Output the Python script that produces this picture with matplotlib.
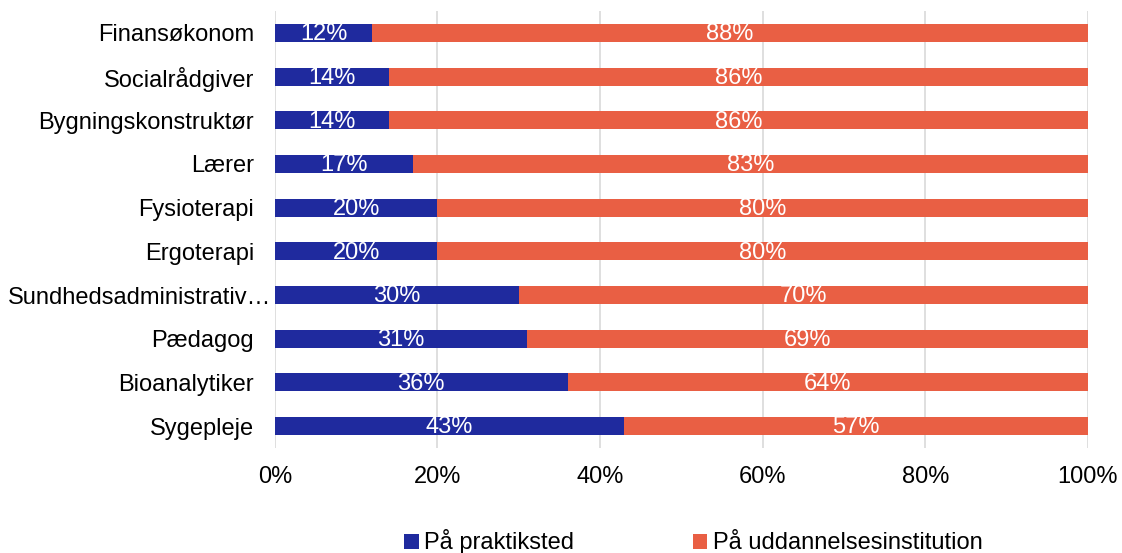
import matplotlib
matplotlib.use("Agg")
import matplotlib.pyplot as plt
from matplotlib.transforms import ScaledTranslation
import numpy as np

# data (top to bottom as shown)
categories = ["Finansøkonom", "Socialrådgiver", "Bygningskonstruktør", "Lærer",
              "Fysioterapi", "Ergoterapi", "Sundhedsadministrativ…", "Pædagog",
              "Bioanalytiker", "Sygepleje"]
praktik = [12, 14, 14, 17, 20, 20, 30, 31, 36, 43]
uddannelse = [88, 86, 86, 83, 80, 80, 70, 69, 64, 57]
series_names = ["På praktiksted", "På uddannelsesinstitution"]

BLUE = "#1f2a9e"
ORANGE = "#e95f44"
FS = 17

plt.rcParams["font.family"] = ["Liberation Sans", "DejaVu Sans"]

fig = plt.figure(figsize=(11.22, 5.53), dpi=100)
ax = fig.add_axes([0.245, 0.19, 0.7246, 0.79])

y = np.arange(len(categories))
p = np.array(praktik) / 100
u = np.array(uddannelse) / 100
h = 0.41
ax.barh(y, p, height=h, color=BLUE, label=series_names[0], zorder=3)
ax.barh(y, u, left=p, height=h, color=ORANGE, label=series_names[1], zorder=3)

for i in range(len(categories)):
    ax.text(p[i] / 2, y[i] + 0.03, f"{praktik[i]}%", color="white", fontsize=FS,
            ha="center", va="center", zorder=4)
    ax.text(p[i] + u[i] / 2, y[i] + 0.03, f"{uddannelse[i]}%", color="white", fontsize=FS,
            ha="center", va="center", zorder=4)

ax.set_ylim(len(categories) - 0.5, -0.5)
ax.set_xlim(0, 1)
ax.set_yticks(y)
ax.set_yticklabels(categories, fontsize=FS)
ax.set_xticks(np.linspace(0, 1, 6))
ax.set_xticklabels([f"{int(v)}%" for v in np.linspace(0, 100, 6)], fontsize=FS)
ax.tick_params(length=0)
ax.tick_params(axis="x", pad=13)
ax.tick_params(axis="y", pad=15)
ax.grid(axis="x", color="#d9d9d9", linewidth=1.2, zorder=0)
for s in ax.spines.values():
    s.set_visible(False)

# the truncated long label sits closer to the axis, as in the original
for lab in ax.get_yticklabels():
    if lab.get_text().endswith("…"):
        lab.set_transform(lab.get_transform() + ScaledTranslation(0.17, 0, fig.dpi_scale_trans))

fig.legend(loc="center", bbox_to_anchor=(0.618, 0.02), ncol=2, frameon=False,
           fontsize=FS, handlelength=0.6, handleheight=0.6, handletextpad=0.25,
           columnspacing=5.0)

fig.savefig("out.png", dpi=100)
